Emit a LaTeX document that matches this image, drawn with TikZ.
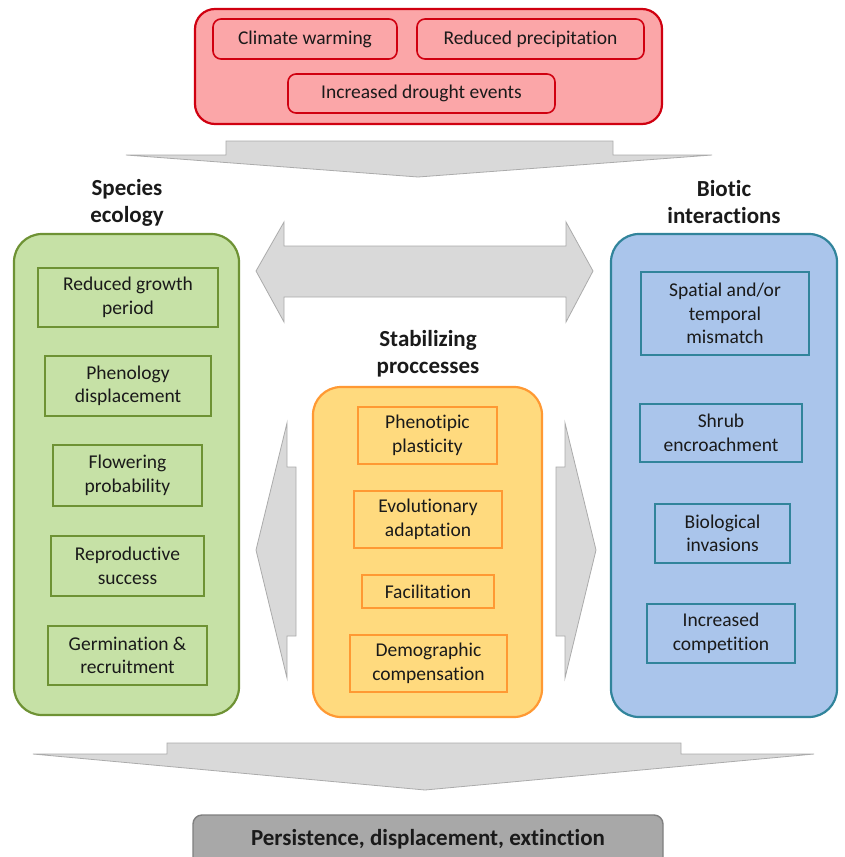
\documentclass[tikz,border=0pt]{standalone}
\usepackage{fontspec}
\setmainfont{Carlito}[Ligatures={NoCommon}]
\newcommand{\myregfont}{\fontsize{19.5}{23.5}\selectfont}
\newcommand{\mytitlefont}{\fontsize{23}{27}\selectfont\bfseries}
\definecolor{redfill}{HTML}{FBA6A8}
\definecolor{redline}{HTML}{D00010}
\definecolor{greenfill}{HTML}{C6E1A6}
\definecolor{greenline}{HTML}{6E9234}
\definecolor{orangefill}{HTML}{FFDA7E}
\definecolor{orangeline}{HTML}{FF9933}
\definecolor{bluefill}{HTML}{AAC5EB}
\definecolor{blueline}{HTML}{31849B}
\definecolor{arrowfill}{HTML}{D9D9D9}
\definecolor{arrowline}{HTML}{ABABAB}
\definecolor{greyfill}{HTML}{A8A8A8}
\definecolor{greyline}{HTML}{7F7F7F}
\definecolor{textcol}{HTML}{1A1A1A}
\begin{document}
\begin{tikzpicture}[x=1pt,y=-1pt,
  outerbox/.style={draw, line width=2.2pt, rounded corners=28pt, inner sep=0pt},
  itembox/.style={draw, line width=1.6pt, align=center, inner sep=0pt, font=\myregfont, text=textcol},
  titletext/.style={align=center, font=\mytitlefont, text=textcol},
  bigarrow/.style={fill=arrowfill, draw=arrowline, line width=0.8pt, line join=miter}
]
\useasboundingbox (0,0) rectangle (844,857);
\clip (0,0) rectangle (844,857);

% ---------- big grey arrows ----------
\draw[bigarrow] (226,141) -- (613,141) -- (613,155) -- (712,155) -- (418,177)
  -- (126,155) -- (226,155) -- cycle;
\draw[bigarrow] (167,743) -- (681,743) -- (681,754) -- (814,754) -- (425,790)
  -- (33,754) -- (167,754) -- cycle;
\draw[bigarrow] (256,271) -- (284,222) -- (284,246) -- (566,246) -- (566,222)
  -- (593,271) -- (566,322) -- (566,297) -- (284,297) -- (284,322) -- cycle;
\draw[bigarrow] (256,550) -- (287,423) -- (287,467) -- (296,467) -- (296,636)
  -- (287,636) -- (287,678) -- cycle;
\draw[bigarrow] (596,550) -- (565,423) -- (565,467) -- (556,467) -- (556,636)
  -- (565,636) -- (565,678) -- cycle;

% ---------- top drivers ----------
\node[outerbox, fill=redfill, draw=redline, rounded corners=20pt,
  minimum width=467pt, minimum height=115pt] (drivers) at (428.5,66.5) {};
\node[itembox, fill=redfill, draw=redline, rounded corners=8pt,
  minimum width=184pt, minimum height=40pt] (cw) at (305,39) {Climate warming};
\node[itembox, fill=redfill, draw=redline, rounded corners=8pt,
  minimum width=227pt, minimum height=40pt] (rp) at (530.5,39) {Reduced precipitation};
\node[itembox, fill=redfill, draw=redline, rounded corners=8pt,
  minimum width=267pt, minimum height=39pt] (de) at (421.5,93.5) {Increased drought events};

% ---------- species ecology ----------
\node[titletext] (tse) at (127,202.5) {Species\\ecology};
\node[outerbox, fill=greenfill, draw=greenline,
  minimum width=225pt, minimum height=481pt] (se) at (126.5,474.5) {};
\node[itembox, draw=greenline, minimum width=180pt, minimum height=59pt] (g1) at (128,297.5) {Reduced growth\\period};
\node[itembox, draw=greenline, minimum width=166pt, minimum height=60pt] (g2) at (128,386) {Phenology\\displacement};
\node[itembox, draw=greenline, minimum width=149pt, minimum height=61pt] (g3) at (127.5,475.5) {Flowering\\probability};
\node[itembox, draw=greenline, minimum width=153pt, minimum height=60pt] (g4) at (127.5,566) {Reproductive\\success};
\node[itembox, draw=greenline, minimum width=159pt, minimum height=59pt] (g5) at (127.5,655.5) {Germination \&\\recruitment};

% ---------- stabilizing processes ----------
\node[titletext] (tsp) at (428,353.5) {Stabilizing\\proccesses};
\node[outerbox, fill=orangefill, draw=orangeline,
  minimum width=229pt, minimum height=330pt] (sp) at (427.5,552) {};
\node[itembox, draw=orangeline, minimum width=139pt, minimum height=57pt] (o1) at (427.5,435.5) {Phenotipic\\plasticity};
\node[itembox, draw=orangeline, minimum width=148pt, minimum height=57pt] (o2) at (428,519.5) {Evolutionary\\adaptation};
\node[itembox, draw=orangeline, minimum width=132pt, minimum height=33pt] (o3) at (428,591.5) {Facilitation};
\node[itembox, draw=orangeline, minimum width=157pt, minimum height=57pt] (o4) at (428.5,663.5) {Demographic\\compensation};

% ---------- biotic interactions ----------
\node[titletext] (tbi) at (724,202) {Biotic\\interactions};
\node[outerbox, fill=bluefill, draw=blueline,
  minimum width=226pt, minimum height=483pt] (bi) at (724,475.5) {};
\node[itembox, draw=blueline, minimum width=168pt, minimum height=83pt] (b1) at (725,313.5) {Spatial and/or\\temporal\\mismatch};
\node[itembox, draw=blueline, minimum width=162pt, minimum height=58pt] (b2) at (721,433) {Shrub\\encroachment};
\node[itembox, draw=blueline, minimum width=135pt, minimum height=59pt] (b3) at (722.5,533.5) {Biological\\invasions};
\node[itembox, draw=blueline, minimum width=148pt, minimum height=59pt] (b4) at (721,633.5) {Increased\\competition};

% ---------- outcome ----------
\node[draw=greyline, fill=greyfill, line width=1.4pt, rounded corners=9pt,
  minimum width=470pt, minimum height=56pt, inner sep=0pt] (out) at (428,843) {};
\node[font=\mytitlefont, text=textcol, inner sep=0pt] (outtext) at ([yshift=4pt]out.center) {Persistence, displacement, extinction};
\end{tikzpicture}
\end{document}
